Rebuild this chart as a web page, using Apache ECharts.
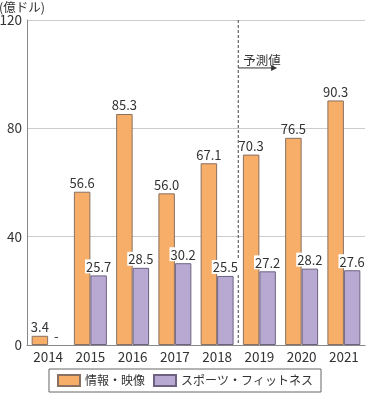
<!DOCTYPE html>
<html><head><meta charset="utf-8">
<script src="https://cdn.jsdelivr.net/npm/echarts@6/dist/echarts.min.js"></script>
<style>html,body{margin:0;padding:0;background:#fff}#c{width:370px;height:395px}</style>
</head><body><div id="c"></div>
<script>
const categories = ['2014','2015','2016','2017','2018','2019','2020','2021'];
const infoVideo = [3.4, 56.6, 85.3, 56.0, 67.1, 70.3, 76.5, 90.3];
const sportsFitness = [null, 25.7, 28.5, 30.2, 25.5, 27.2, 28.2, 27.6];
const yTicks = [0, 40, 80, 120];
const seriesNames = ['情報・映像', 'スポーツ・フィットネス'];
const unitLabel = '(億ドル)';
const forecastLabel = '予測値';
const forecastStartIndex = 5;

const font = '"Noto Sans CJK JP", "Noto Sans", sans-serif';
const chart = echarts.init(document.getElementById('c'));
const sfData = sportsFitness.map(v => v === null
  ? {value: 0, isDash: true, itemStyle: {color: 'rgba(0,0,0,0)', borderWidth: 0}}
  : {value: v});
const lbl = {show: true, position: 'top', fontFamily: font, fontSize: 13, color: '#333', distance: 2,
  formatter: p => p.value.toFixed(1)};
chart.setOption({
  animation: false,
  textStyle: {fontFamily: font},
  grid: {left: 27, right: 5, top: 20, bottom: 50, outerBoundsMode: 'none', containLabel: false},
  legend: {
    bottom: 3, left: 'center', itemWidth: 22, itemHeight: 11, itemGap: 8, icon: 'rect',
    borderColor: '#666', borderWidth: 1, padding: [5, 8, 5, 8],
    textStyle: {fontFamily: font, fontSize: 12, color: '#333'},
    data: seriesNames
  },
  xAxis: {
    type: 'category', data: categories,
    axisLine: {lineStyle: {color: '#888'}}, axisTick: {show: false},
    axisLabel: {fontFamily: font, fontSize: 13.5, color: '#333', margin: 5}
  },
  yAxis: {
    type: 'value', min: yTicks[0], max: yTicks[yTicks.length-1], interval: 40,
    name: unitLabel, nameLocation: 'end', nameGap: 6,
    nameTextStyle: {fontFamily: font, fontSize: 12.5, color: '#333', align: 'left', padding: [0,0,0,-28]},
    axisLine: {show: true, lineStyle: {color: '#888'}}, axisTick: {show: false},
    axisLabel: {fontFamily: font, fontSize: 13.5, color: '#333', margin: 5},
    splitLine: {lineStyle: {color: '#ccc'}}
  },
  series: [
    {name: seriesNames[0], type: 'bar', data: infoVideo, barGap: '0%', barCategoryGap: '22%',
     itemStyle: {color: '#F7AE69', borderColor: '#8a7060', borderWidth: 1}, label: lbl},
    {name: seriesNames[1], type: 'bar', data: sfData,
     itemStyle: {color: '#B8A9D3', borderColor: '#6e6280', borderWidth: 1},
     label: Object.assign({}, lbl, {backgroundColor: '#fff', padding: [1,1,0,1],
       formatter: p => p.data.isDash ? '-' : p.value.toFixed(1)})}
  ]
});
const c4 = chart.convertToPixel({xAxisIndex:0}, forecastStartIndex - 1);
const c5 = chart.convertToPixel({xAxisIndex:0}, forecastStartIndex);
const xDiv = (c4 + c5) / 2;
const yTop = chart.convertToPixel({yAxisIndex:0}, 120);
const yBot = chart.convertToPixel({yAxisIndex:0}, 0);
const yArr = chart.convertToPixel({yAxisIndex:0}, 102.3);
const xArrEnd = c5 + (c5 - c4) * 0.42;
chart.setOption({graphic: [
  {type: 'line', shape: {x1: xDiv, y1: yTop, x2: xDiv, y2: yBot}, style: {stroke: '#444', lineWidth: 1, lineDash: [3, 2]}},
  {type: 'line', shape: {x1: xDiv, y1: yArr, x2: xArrEnd - 5, y2: yArr}, style: {stroke: '#333', lineWidth: 1}},
  {type: 'polygon', shape: {points: [[xArrEnd-6, yArr-3], [xArrEnd, yArr], [xArrEnd-6, yArr+3]]}, style: {fill: '#333'}},
  {type: 'text', x: xDiv + 5, y: yArr - 1, style: {text: forecastLabel, font: '12.5px ' + font, fill: '#333', textVerticalAlign: 'bottom'}}
]});
</script></body></html>
